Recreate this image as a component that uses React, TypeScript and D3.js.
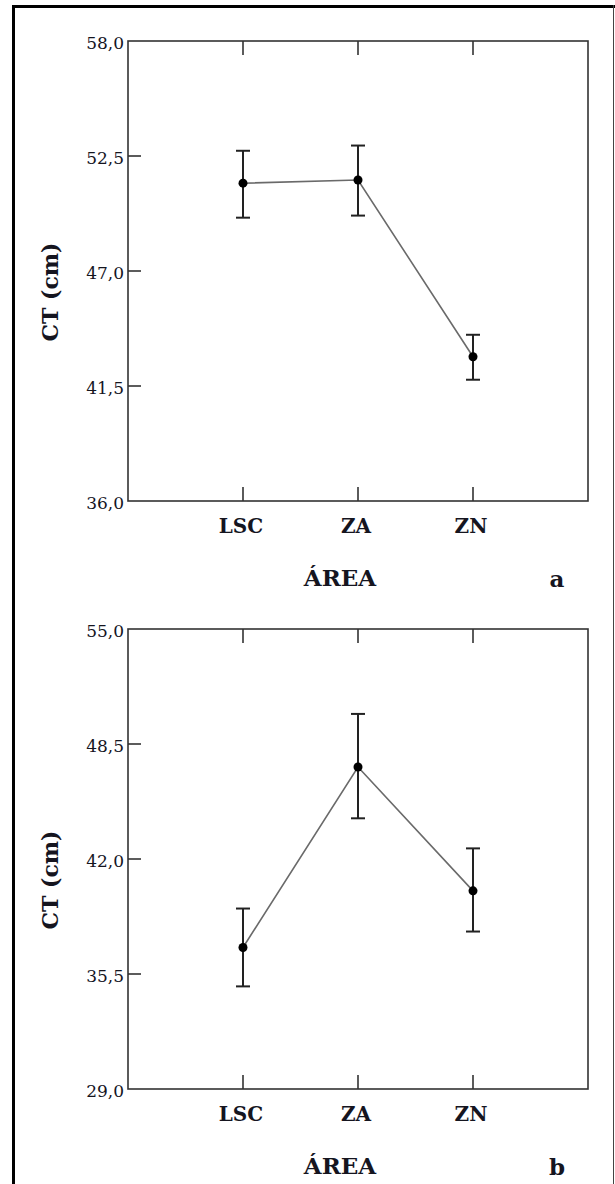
import React from 'react'
import * as d3 from 'd3'

// values
const categories = ['LSC', 'ZA', 'ZN']

const meanA = [51.2, 51.35, 42.9]
const upperA = [52.75, 53.0, 43.95]
const lowerA = [49.55, 49.65, 41.8]
const ticksA = [36.0, 41.5, 47.0, 52.5, 58.0]

const meanB = [37.0, 47.2, 40.2]
const upperB = [39.2, 50.2, 42.6]
const lowerB = [34.8, 44.3, 37.9]
const ticksB = [29.0, 35.5, 42.0, 48.5, 55.0]

const fmt = (v: number) => d3.format('.1f')(v).replace('.', ',')

const SERIF = "'DejaVu Serif', 'Liberation Serif', serif"
const TEXT = '#15151f'

type PanelProps = {
  top: number
  mean: number[]
  upper: number[]
  lower: number[]
  ticks: number[]
  letter: string
}

function Panel ({ top, mean, upper, lower, ticks, letter }: PanelProps) {
  const left = 128
  const right = 588
  const height = 460
  const bottom = top + height

  const x = d3.scalePoint<string>().domain(categories).range([left, right]).padding(1)
  const y = d3.scaleLinear().domain([ticks[0], ticks[ticks.length - 1]]).range([bottom, top])

  const pts = categories.map((c, i) => ({ c, m: mean[i], hi: upper[i], lo: lower[i] }))
  const line = d3.line<typeof pts[0]>()
    .x(d => x(d.c) as number)
    .y(d => y(d.m))

  const frame = '#333'
  const tickLen = 13

  return (
    <g>
      <rect x={left} y={top} width={right - left} height={height} fill="none" stroke={frame} strokeWidth={1.6} />
      {ticks.slice(1, -1).map(t => (
        <line key={'yt' + t} x1={left} x2={left + tickLen} y1={y(t)} y2={y(t)} stroke={frame} strokeWidth={1.6} />
      ))}
      {categories.map(c => (
        <g key={'xt' + c}>
          <line x1={x(c)} x2={x(c)} y1={top} y2={top + 14} stroke={frame} strokeWidth={1.6} />
          <line x1={x(c)} x2={x(c)} y1={bottom} y2={bottom - 14} stroke={frame} strokeWidth={1.6} />
        </g>
      ))}
      {ticks.map(t => (
        <text key={'yl' + t} x={left - 4} y={y(t) + 2} dy="0.35em" textAnchor="end"
          fontFamily={SERIF} fontSize={17} fill={TEXT}>{fmt(t)}</text>
      ))}
      {categories.map(c => (
        <text key={'xl' + c} x={(x(c) as number) - 2} y={bottom + 32} textAnchor="middle"
          fontFamily={SERIF} fontWeight="bold" fontSize={20} fill={TEXT}>{c}</text>
      ))}
      <text x={340} y={bottom + 85} textAnchor="middle" fontFamily={SERIF} fontWeight="bold"
        fontSize={23} fill={TEXT}>ÁREA</text>
      <text x={557} y={bottom + 86} textAnchor="middle" fontFamily={SERIF} fontWeight="bold"
        fontSize={23} fill={TEXT}>{letter}</text>
      <text transform={`translate(58,${top + height / 2 + 21}) rotate(-90)`} textAnchor="middle"
        fontFamily={SERIF} fontWeight="bold" fontSize={22} fill={TEXT}>CT (cm)</text>

      <path d={line(pts) || ''} fill="none" stroke="#6a6a6a" strokeWidth={1.6} />
      {pts.map(p => {
        const cx = x(p.c) as number
        return (
          <g key={'e' + p.c}>
            <line x1={cx} x2={cx} y1={y(p.hi)} y2={y(p.lo)} stroke="#222" strokeWidth={2} />
            <line x1={cx - 7} x2={cx + 7} y1={y(p.hi)} y2={y(p.hi)} stroke="#222" strokeWidth={2} />
            <line x1={cx - 7} x2={cx + 7} y1={y(p.lo)} y2={y(p.lo)} stroke="#222" strokeWidth={2} />
            <circle cx={cx} cy={y(p.m)} r={4.5} fill="#000" />
          </g>
        )
      })}
    </g>
  )
}

export default function App () {
  return (
    <div style={{ position: 'absolute', left: 0, top: 0 }}>
      <svg width={615} height={1184} style={{ display: 'block', background: '#fff' }}>
        <line x1={13.5} x2={13.5} y1={5} y2={1184} stroke="#000" strokeWidth={3} />
        <line x1={12} x2={615} y1={6.5} y2={6.5} stroke="#000" strokeWidth={3} />
        <line x1={613.5} x2={613.5} y1={5} y2={1184} stroke="#444" strokeWidth={1} />
        <Panel top={41} mean={meanA} upper={upperA} lower={lowerA} ticks={ticksA} letter="a" />
        <Panel top={629} mean={meanB} upper={upperB} lower={lowerB} ticks={ticksB} letter="b" />
      </svg>
    </div>
  )
}
